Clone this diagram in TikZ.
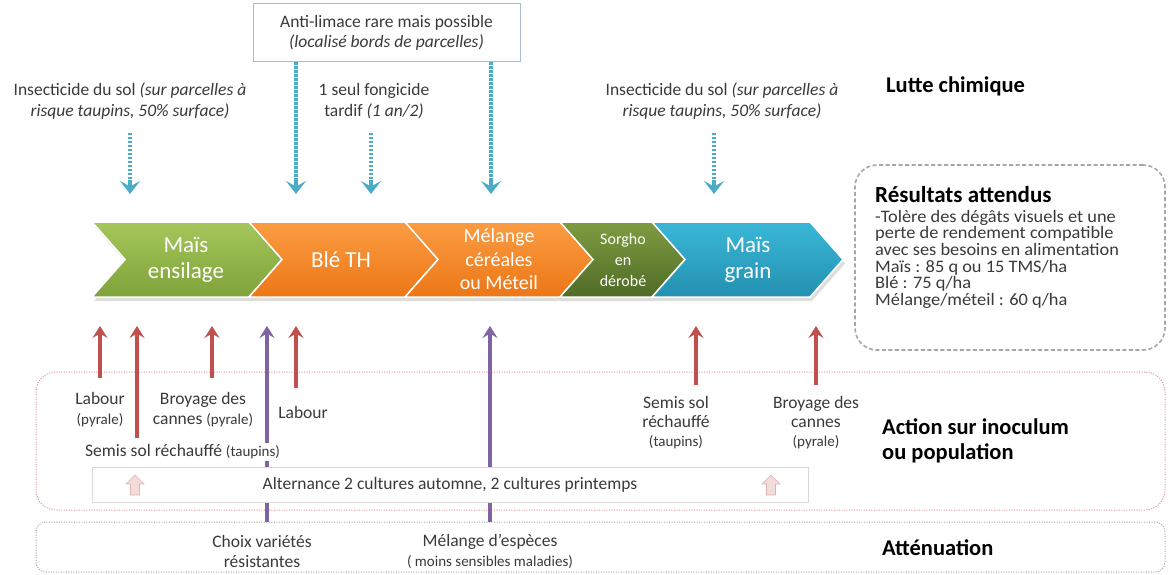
\documentclass[tikz,border=0pt]{standalone}
\usepackage{fontspec}
\setmainfont{Carlito}
\newfontfamily\widefont[FakeStretch=1.05]{Carlito}
\usetikzlibrary{arrows.meta,calc}
\definecolor{arrblue}{HTML}{4BACC6}
\definecolor{arrred}{HTML}{C0504D}
\definecolor{arrpurple}{HTML}{8064A2}
\definecolor{txtgray}{HTML}{3A3A3A}
\definecolor{greentop}{HTML}{A4C65A}
\definecolor{greenbot}{HTML}{7FA23A}
\definecolor{orangetop}{HTML}{FB9C42}
\definecolor{orangebot}{HTML}{EC7716}
\definecolor{darkgtop}{HTML}{7E9C40}
\definecolor{darkgbot}{HTML}{506B26}
\definecolor{bluetop}{HTML}{3AB7D8}
\definecolor{bluebot}{HTML}{2490B0}
\definecolor{actborder}{HTML}{D99694}
\definecolor{attborder}{HTML}{A6A6A6}
\definecolor{altborder}{HTML}{D9D9D9}
\definecolor{limborder}{HTML}{A9BCD3}
\definecolor{pinkfill}{HTML}{F2DCDB}
\definecolor{pinkedge}{HTML}{E0B4B3}
\newcommand\regf{\fontsize{17.5}{20}\selectfont}
\newcommand\smallf{\fontsize{15}{18}\selectfont}
\newcommand\headf{\fontsize{22.5}{25}\selectfont\bfseries}
\newcommand\chevshape[4]{%
  \fill[black,opacity=0.13] ({#1+2},226) -- ({#2+2},226) -- ({#2+35},263.5) -- ({#2+2},301) -- ({#1+2},301) -- ({#1+35},263.5) -- cycle;
  \shadedraw[top color=#3,bottom color=#4,draw=white,line width=1.5pt]
  (#1,222) -- (#2,222) -- ({#2+33},259.5) -- (#2,297) -- (#1,297) -- ({#1+33},259.5) -- cycle;}
\newcommand\pinkup[2]{%
  \filldraw[fill=pinkfill,draw=pinkedge,line width=0.6pt]
  ({#1-9},{#2-1}) -- (#1,{#2-10}) -- ({#1+9},{#2-1}) -- ({#1+4.5},{#2-1}) -- ({#1+4.5},{#2+10}) -- ({#1-4.5},{#2+10}) -- ({#1-4.5},{#2-1}) -- cycle;}
\tikzset{
  lbl/.style={font=\regf, text=txtgray, align=center, inner sep=0pt},
  headlbl/.style={font=\headf, text=black, align=left, inner sep=0pt, anchor=west},
  chevtxt/.style={text=white, align=center, inner sep=0pt},
  bluearr/.style={draw=arrblue, line width=3.5pt, dash pattern=on 2.5pt off 1.5pt},
  bluetip/.style={draw=arrblue, line width=3.5pt, -{Stealth[length=13pt,width=20pt,inset=5.5pt]}},
  redarr/.style={draw=arrred, line width=3.2pt, -{Stealth[length=12pt,width=15pt,inset=4.5pt]}},
  purparr/.style={draw=arrpurple, line width=3.2pt, -{Stealth[length=12pt,width=15pt,inset=4.5pt]}},
}
\begin{document}
\begin{tikzpicture}[x=1pt,y=-1pt]
\useasboundingbox[fill=white] (0,0) rectangle (1168,575);

% ---- frames
\node[draw=actborder, line width=1pt, dash pattern=on 1pt off 1.5pt, rounded corners=20pt,
  minimum width=1129pt, minimum height=138pt, inner sep=0pt] (actbox) at (600.5,441) {};
\node[draw=attborder, line width=1pt, dash pattern=on 1pt off 1.5pt, rounded corners=10pt,
  minimum width=1129pt, minimum height=50pt, inner sep=0pt] (attbox) at (600.5,547) {};
\node[draw=attborder, line width=1.6pt, dash pattern=on 4pt off 2.5pt, rounded corners=22pt,
  minimum width=310pt, minimum height=185pt, inner sep=0pt] (resbox) at (1010,257.5) {};
\node[draw=limborder, line width=1pt, fill=white, minimum width=267pt, minimum height=58pt,
  inner sep=0pt, font=\regf, text=txtgray, align=center] (antilim) at (386.5,33)
  {\fontsize{17.5}{19}\selectfont Anti-limace rare mais possible\\\textit{(localisé bords de parcelles)}};

% ---- top texts
\node[lbl, font=\fontsize{17.5}{21}\selectfont] (ins1) at (130,101.5)
  {Insecticide du sol \textit{(sur parcelles à}\\\textit{risque taupins, 50\% surface)}};
\node[lbl, font=\fontsize{17.5}{21}\selectfont] (fong) at (374,101.5)
  {1 seul fongicide\\tardif \textit{(1 an/2)}};
\node[lbl, font=\fontsize{17.5}{21}\selectfont] (ins2) at (722,101.5)
  {Insecticide du sol \textit{(sur parcelles à}\\\textit{risque taupins, 50\% surface)}};
\node[headlbl] (lutte) at (886,86) {Lutte chimique};

% ---- arrow end points
\coordinate (b1a) at (130,133); \coordinate (b1b) at (130,194);
\coordinate (b2b) at (296,194);
\coordinate (b3a) at (371,133); \coordinate (b3b) at (371,194);
\coordinate (b4b) at (491,194);
\coordinate (b5a) at (714,133); \coordinate (b5b) at (714,194);

\draw[bluearr] (b1a) -- ($(b1b)+(0,-10)$);
\draw[bluearr] (antilim.south -| b2b) -- ($(b2b)+(0,-10)$);
\draw[bluearr] (b3a) -- ($(b3b)+(0,-10)$);
\draw[bluearr] (antilim.south -| b4b) -- ($(b4b)+(0,-10)$);
\draw[bluearr] (b5a) -- ($(b5b)+(0,-10)$);
\foreach \t in {b1b,b2b,b3b,b4b,b5b} \draw[bluetip] ($(\t)+(0,-14)$) -- (\t);

% ---- chevrons
\chevshape{92}{249}{greentop}{greenbot}
\chevshape{249}{405}{orangetop}{orangebot}
\chevshape{405}{560}{orangetop}{orangebot}
\chevshape{560}{652}{darkgtop}{darkgbot}
\chevshape{652}{810}{bluetop}{bluebot}
\node[chevtxt, font=\fontsize{23}{26}\selectfont] (c1) at (186,259.5) {Maïs\\ensilage};
\node[chevtxt, font=\fontsize{23}{26}\selectfont] (c2) at (341,259.5) {Blé TH};
\node[chevtxt, font=\fontsize{20}{23.5}\selectfont] (c3) at (499,259.5) {Mélange\\céréales\\ou Méteil};
\node[chevtxt, font=\fontsize{16}{21}\selectfont] (c4) at (623,259.5) {Sorgho\\en\\dérobé};
\node[chevtxt, font=\fontsize{23}{26}\selectfont] (c5) at (748,259.5) {Maïs\\grain};

% ---- bottom arrows
\coordinate (r1t) at (100,326); \coordinate (r1b) at (100,378);
\coordinate (r2t) at (137,326); \coordinate (r2b) at (137,438);
\coordinate (r3t) at (212,326); \coordinate (r3b) at (212,378);
\coordinate (r4t) at (296,326); \coordinate (r4b) at (296,388);
\coordinate (r5t) at (696,326); \coordinate (r5b) at (696,385);
\coordinate (r6t) at (816,326); \coordinate (r6b) at (816,385);
\coordinate (p1t) at (267,326); \coordinate (p2t) at (490,326);
\draw[redarr] (r1b) -- (r1t);
\draw[redarr] (r2b) -- (r2t);
\draw[redarr] (r3b) -- (r3t);
\draw[redarr] (r4b) -- (r4t);
\draw[redarr] (r5b) -- (r5t);
\draw[redarr] (r6b) -- (r6t);
\draw[purparr] (attbox.north -| p1t) -- (p1t);
\draw[purparr] (attbox.north -| p2t) -- (p2t);

% ---- alternance
\node[draw=altborder, line width=1pt, fill=white, minimum width=716pt, minimum height=35pt,
  inner sep=0pt, font=\regf, text=txtgray] (altbox) at (450,484.5)
  {Alternance 2 cultures automne, 2 cultures printemps};
\pinkup{135}{485}
\pinkup{771}{485}

% ---- bottom labels
\node[lbl] (lab1) at (100,410) {Labour\\{\smallf(pyrale)}};
\node[lbl] (broy1) at (203,410) {Broyage des\\cannes {\smallf(pyrale)}};
\node[lbl] (lab2) at (303,412) {Labour};
\node[lbl, anchor=west, fill=white, inner xsep=1pt, inner ysep=2pt] (semis1) at (84,452)
  {Semis sol réchauffé {\smallf(taupins)}};
\node[lbl, font=\fontsize{17.5}{19}\selectfont] (semis2) at (676,423)
  {Semis sol\\réchauffé\\{\smallf(taupins)}};
\node[lbl, font=\fontsize{17.5}{19}\selectfont] (broy2) at (816,423)
  {Broyage des\\cannes\\{\smallf(pyrale)}};
\node[lbl] (choix) at (262,551) {Choix variétés\\résistantes};
\node[lbl] (melesp) at (490,551) {Mélange d’espèces\\{\smallf( moins sensibles maladies)}};

\node[headlbl] (action) at (882,441) {Action sur inoculum\\ou population};
\node[headlbl] (attenu) at (882,548) {Atténuation};

% ---- results
\node[headlbl, font=\fontsize{23}{25}\selectfont\bfseries] (restitle) at (875,195) {Résultats attendus};
\node[anchor=north west, inner sep=0pt, align=left, text=txtgray,
  font=\widefont\fontsize{17.5}{16.6}\selectfont] (resbody) at (875,210)
  {-Tolère des dégâts visuels et une\\perte de rendement compatible\\avec ses besoins en alimentation\\
   Maïs : 85 q ou 15 TMS/ha\\Blé : 75 q/ha\\Mélange/méteil : 60 q/ha};
\end{tikzpicture}
\end{document}
